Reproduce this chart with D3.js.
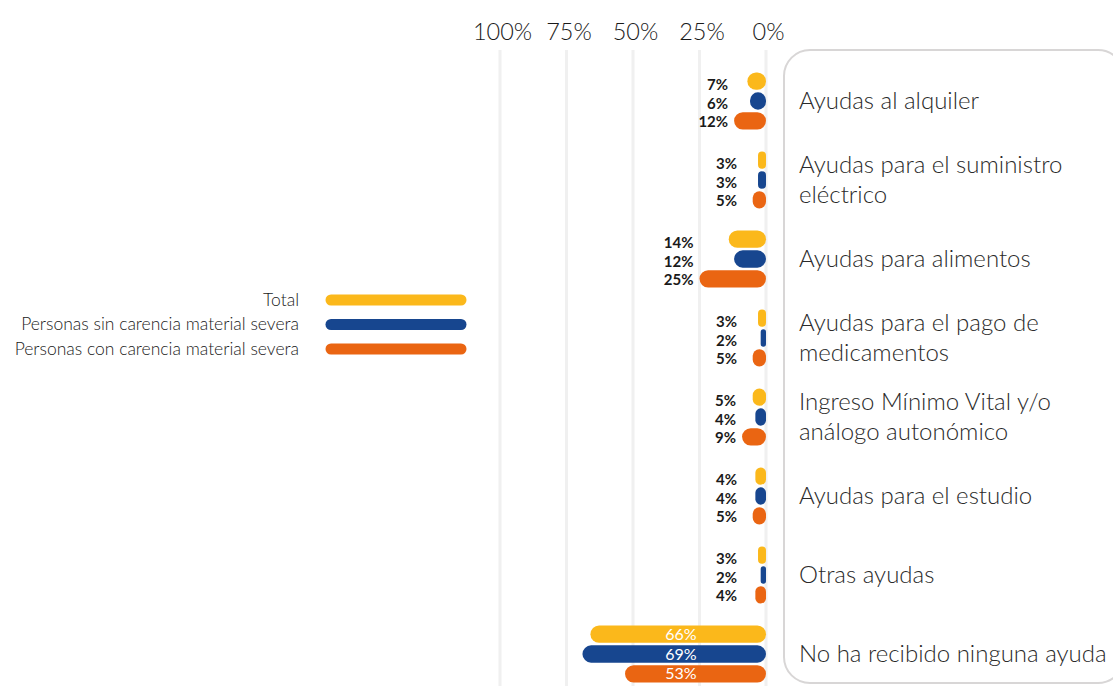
<!DOCTYPE html>
<html>
<head>
<meta charset="utf-8">
<script src="https://cdn.jsdelivr.net/npm/d3@7"></script>
<style>
  html, body { margin: 0; padding: 0; background: #fff; }
  svg { display: block; font-family: Lato, "Open Sans", sans-serif; }
</style>
</head>
<body>
<svg id="chart" width="1113" height="686"></svg>
<script>
const categories = [
  "Ayudas al alquiler",
  "Ayudas para el suministro\neléctrico",
  "Ayudas para alimentos",
  "Ayudas para el pago de\nmedicamentos",
  "Ingreso Mínimo Vital y/o\nanálogo autonómico",
  "Ayudas para el estudio",
  "Otras ayudas",
  "No ha recibido ninguna ayuda"
];
const seriesNames = ["Total", "Personas sin carencia material severa", "Personas con carencia material severa"];
const totalValues = [7, 3, 14, 3, 5, 4, 3, 66];
const sinCarenciaValues = [6, 3, 12, 2, 4, 4, 2, 69];
const conCarenciaValues = [12, 5, 25, 5, 9, 5, 4, 53];
const tickValues = [100, 75, 50, 25, 0];
const tickLabels = ["100%", "75%", "50%", "25%", "0%"];
const colors = ["#FBB81B", "#17468F", "#EA6512"];

const seriesValues = [totalValues, sinCarenciaValues, conCarenciaValues];
const svg = d3.select("#chart");

const x = d3.scaleLinear().domain([0, 100]).range([766, 500]);
const y = d3.scaleBand().domain(categories).range([61.5, 693.5]).padding(0);
const sub = d3.scaleBand().domain(seriesNames).range([-28.5, 28.5]).paddingInner(0.13);

// panel on the right
svg.append("rect")
  .attr("x", 784).attr("y", 50).attr("width", 340).attr("height", 633)
  .attr("rx", 26).attr("ry", 26)
  .attr("fill", "none").attr("stroke", "#d8d6d6").attr("stroke-width", 2);

// grid lines
svg.append("g").selectAll("line").data(tickValues).join("line")
  .attr("x1", d => x(d)).attr("x2", d => x(d))
  .attr("y1", 50).attr("y2", 686)
  .attr("stroke", "#f0f0f0").attr("stroke-width", 3);

// top axis
const axis = d3.axisTop(x).tickValues(tickValues)
  .tickFormat((d, i) => tickLabels[i]).tickSize(0).tickPadding(0);
const axG = svg.append("g").attr("transform", "translate(2,40)").call(axis);
axG.select(".domain").remove();
axG.selectAll("text")
  .attr("font-family", "Lato, sans-serif")
  .attr("font-weight", 300)
  .attr("font-size", 23.5)
  .attr("fill", "#1a1a1a")
  .attr("dy", 0);

// bars
const rows = [];
categories.forEach((c, ci) => {
  seriesNames.forEach((s, si) => {
    rows.push({ cat: c, ci, series: s, si, value: seriesValues[si][ci] });
  });
});

const barG = svg.append("g");
barG.selectAll("rect").data(rows).join("rect")
  .attr("x", d => x(d.value))
  .attr("y", d => y(d.cat) + y.bandwidth() / 2 + sub(d.series))
  .attr("width", d => x(0) - x(d.value))
  .attr("height", sub.bandwidth())
  .attr("rx", d => Math.min(x(0) - x(d.value), sub.bandwidth()) / 2)
  .attr("fill", d => colors[d.si]);

// value labels
const maxByCat = categories.map((c, ci) => d3.max(seriesValues, v => v[ci]));
barG.selectAll("text").data(rows).join("text")
  .attr("x", d => {
    if (d.value > 40) return x(32);
    return Math.min(x(maxByCat[d.ci]) - 6, 737);
  })
  .attr("y", d => {
    const cy = y(d.cat) + y.bandwidth() / 2;
    const off = sub(d.series) + sub.bandwidth() / 2;
    return cy + (d.value > 40 ? off : off * 0.92 + 2) + 5.5;
  })
  .attr("text-anchor", d => d.value > 40 ? "middle" : "end")
  .attr("font-family", "Lato, sans-serif")
  .attr("font-weight", d => d.value > 40 ? 400 : 700)
  .attr("font-size", d => d.value > 40 ? 16 : 15)
  .attr("fill", d => d.value > 40 ? "#ffffff" : "#1a1a1a")
  .text(d => d.value + "%");

// category labels
const catG = svg.append("g");
categories.forEach((c, ci) => {
  const lines = c.split("\n");
  const cy = y(c) + y.bandwidth() / 2;
  const lh = 30;
  const t = catG.append("text")
    .attr("x", 799)
    .attr("font-family", "Lato, sans-serif")
    .attr("font-weight", 300)
    .attr("font-size", 24)
    .attr("fill", "#2a2a2a");
  lines.forEach((ln, li) => {
    t.append("tspan")
      .attr("x", 799)
      .attr("y", cy + (li - (lines.length - 1) / 2) * lh + 8)
      .text(ln);
  });
});

// legend
const leg = svg.append("g");
seriesNames.forEach((s, si) => {
  const ly = 300 + si * 24.5;
  leg.append("text")
    .attr("x", 299).attr("y", ly + 5.5)
    .attr("text-anchor", "end")
    .attr("font-family", "Lato, sans-serif")
    .attr("font-weight", 300)
    .attr("font-size", 17.5)
    .attr("fill", "#1a1a1a")
    .text(s);
  leg.append("line")
    .attr("x1", 331).attr("x2", 461)
    .attr("y1", ly).attr("y2", ly)
    .attr("stroke", colors[si]).attr("stroke-width", 11)
    .attr("stroke-linecap", "round");
});
</script>
</body>
</html>
